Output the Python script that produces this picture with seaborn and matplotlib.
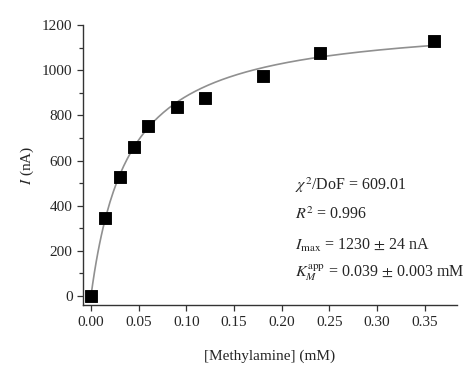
import numpy as np
import pandas as pd
import seaborn as sns
from matplotlib import pyplot as plt
from matplotlib.ticker import MultipleLocator

# measured points
conc = [0.0, 0.015, 0.03, 0.045, 0.06, 0.09, 0.12, 0.18, 0.24, 0.36]
current = [0, 345, 525, 660, 755, 835, 878, 975, 1075, 1130]

# fit parameters as printed on the chart
i_max = 1230
k_m = 0.039

fit_labels = [r'$\chi^2$/DoF = 609.01',
              r'$R^2$ = 0.996',
              r'$I_{\mathrm{max}}$ = 1230 $\pm$ 24 nA',
              r'$K_M^{\mathrm{app}}$ = 0.039 $\pm$ 0.003 mM']

sns.set_style('ticks')
plt.rcParams['font.family'] = ['Liberation Serif', 'DejaVu Serif']
plt.rcParams['mathtext.fontset'] = 'stix'

df = pd.DataFrame({'c': conc, 'i': current})
xs = np.linspace(0, max(conc), 200)
fit = pd.DataFrame({'c': xs, 'i': i_max * xs / (k_m + xs)})

fig = plt.figure(figsize=(4.74, 3.73), dpi=100)
ax = fig.add_axes([0.175, 0.182, 0.789, 0.751])

sns.lineplot(data=fit, x='c', y='i', ax=ax, color='#909090', linewidth=1.2)
sns.scatterplot(data=df, x='c', y='i', ax=ax, marker='s', s=64,
                color='black', edgecolor='black', zorder=3)

ax.set_xlim(-0.0084, 0.3837)
ax.set_ylim(-40, 1200)
ax.set_xticks([0, 0.05, 0.10, 0.15, 0.20, 0.25, 0.30, 0.35])
ax.set_xticklabels(['0.00', '0.05', '0.10', '0.15', '0.20', '0.25', '0.30', '0.35'])
ax.set_yticks(range(0, 1201, 200))
ax.yaxis.set_minor_locator(MultipleLocator(100))
ax.tick_params(axis='both', which='major', labelsize=11, length=4, width=0.9, color='#333333')
ax.tick_params(axis='y', which='minor', length=3, width=0.9, color='#333333')
for side in ['top', 'right']:
    ax.spines[side].set_visible(False)
for side in ['left', 'bottom']:
    ax.spines[side].set_linewidth(1.0)
    ax.spines[side].set_color('#333333')

ax.set_xlabel('[Methylamine] (mM)', fontsize=11, labelpad=15)
ax.set_ylabel(r'$I$ (nA)', fontsize=11, labelpad=4)

ys = [185, 215, 245, 273]
for lab, yp in zip(fit_labels, ys):
    fig.text(295 / 474, 1 - yp / 373, lab, fontsize=11.5, va='center', ha='left')

fig.savefig('out.png', dpi=100)
